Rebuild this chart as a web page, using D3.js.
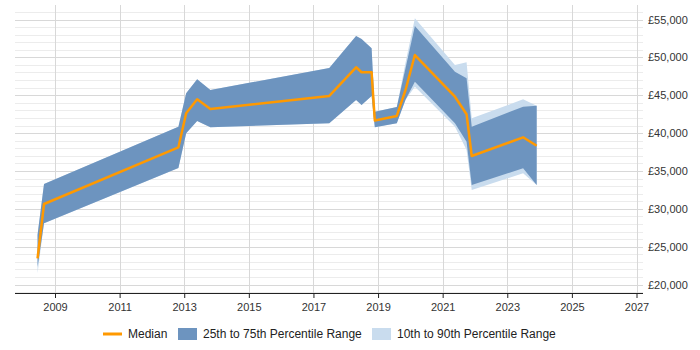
<!DOCTYPE html>
<html>
<head>
<meta charset="utf-8">
<script src="https://cdn.jsdelivr.net/npm/d3@7"></script>
<style>
  body { margin: 0; background: #fff; }
  svg { display: block; font-family: "Liberation Sans", Arial, sans-serif; }
</style>
</head>
<body>
<svg width="700" height="350"></svg>
<script>
// dates as decimal years
const dates = [2008.46, 2008.66, 2012.82, 2013.06, 2013.40, 2013.81, 2017.49, 2018.32, 2018.49, 2018.80,
  2018.90, 2019.58, 2019.85, 2020.14, 2021.38, 2021.74, 2021.90, 2023.49, 2023.91];
const median = [23460, 30630, 38120, 42610, 44460, 43180, 44900, 48690, 48030, 48030,
  41660, 42260, 45690, 50310, 44800, 42480, 36970, 39440, 38330];
const p75 = [26540, 33270, 40840, 45250, 47100, 45690, 48600, 52820, 52430, 51200,
  42820, 43440, 48550, 54140, 48110, 47230, 40840, 43480, 43610];
const p25 = [22300, 28080, 35390, 39970, 41600, 40760, 41290, 44370, 43710, 44900,
  40760, 41290, 44390, 46790, 41290, 38860, 33140, 35350, 33140];
const p90 = [26700, 33270, 40840, 45250, 47100, 45690, 48600, 52820, 52430, 51200,
  42820, 43440, 49300, 55160, 48990, 49350, 41950, 44460, 43610];
const p10 = [21500, 28080, 35390, 39970, 41600, 40760, 41290, 44370, 43710, 44900,
  40760, 41290, 44390, 46130, 40840, 37770, 32480, 34690, 33140];

const yearTicks = [2009, 2011, 2013, 2015, 2017, 2019, 2021, 2023, 2025, 2027];
const salaryTicks = [20000, 25000, 30000, 35000, 40000, 45000, 50000, 55000];

const svg = d3.select("svg");
const plotLeft = 15, plotRight = 643, plotTop = 5, plotBottom = 293;

const x = d3.scaleLinear().domain([2009, 2027]).range([55, 636.5]);
const y = d3.scaleLinear().domain([20000, 55000]).range([284.5, 19.5]);

const rows = dates.map((d, i) => ({
  date: d, median: median[i], p10: p10[i], p25: p25[i], p75: p75[i], p90: p90[i]
}));

// grid
const minor = d3.range(19000, 57000, 1000).filter(v => v % 5000 !== 0);
svg.append("g").selectAll("line")
  .data(minor)
  .join("line")
  .attr("x1", plotLeft).attr("x2", plotRight)
  .attr("y1", d => Math.round(y(d)) + 0.5).attr("y2", d => Math.round(y(d)) + 0.5)
  .attr("stroke", "#ececec");

svg.append("g").selectAll("line")
  .data(yearTicks)
  .join("line")
  .attr("x1", d => Math.round(x(d)) + 0.5).attr("x2", d => Math.round(x(d)) + 0.5)
  .attr("y1", plotTop).attr("y2", plotBottom)
  .attr("stroke", "#d8d8d8");

svg.append("g").selectAll("line")
  .data(salaryTicks)
  .join("line")
  .attr("x1", plotLeft).attr("x2", plotRight)
  .attr("y1", d => Math.round(y(d)) + 0.5).attr("y2", d => Math.round(y(d)) + 0.5)
  .attr("stroke", "#d8d8d8");

// bands
const band = (lo, hi) => d3.area()
  .x(d => x(d.date))
  .y0(d => y(d[lo]))
  .y1(d => y(d[hi]));

svg.append("path")
  .datum(rows)
  .attr("d", band("p10", "p90"))
  .attr("fill", "#c9dcee");

svg.append("path")
  .datum(rows)
  .attr("d", band("p25", "p75"))
  .attr("fill", "#6d94bf");

svg.append("path")
  .datum(rows)
  .attr("d", d3.line().x(d => x(d.date)).y(d => y(d.median)))
  .attr("fill", "none")
  .attr("stroke", "#ff9900")
  .attr("stroke-width", 2.5)
  .attr("stroke-linejoin", "round");

// x axis
const xAxis = svg.append("g")
  .attr("transform", `translate(0,${plotBottom})`)
  .call(d3.axisBottom(x).tickValues(yearTicks).tickFormat(d3.format("d")).tickSizeOuter(0).tickSize(5));
xAxis.select(".domain").attr("d", `M${plotLeft},0.5H${plotRight}`).attr("stroke", "#222");
xAxis.selectAll(".tick line").attr("stroke", "#222");
xAxis.selectAll("text").attr("font-size", 11).attr("fill", "#333").attr("dy", "0.9em")
  .attr("font-family", "Liberation Sans, Arial, sans-serif");

// y axis labels on right
const yAxis = svg.append("g")
  .attr("transform", `translate(${plotRight},0)`)
  .call(d3.axisRight(y).tickValues(salaryTicks).tickFormat(d => "£" + d3.format(",")(d)).tickSize(0).tickPadding(5));
yAxis.select(".domain").remove();
yAxis.selectAll("text").attr("font-size", 11).attr("fill", "#333")
  .attr("font-family", "Liberation Sans, Arial, sans-serif");

// legend
const legendItems = [
  { label: "Median", type: "line", color: "#ff9900", x: 103 },
  { label: "25th to 75th Percentile Range", type: "box", color: "#6d94bf", x: 178 },
  { label: "10th to 90th Percentile Range", type: "box", color: "#c9dcee", x: 372 }
];
const legend = svg.append("g").attr("transform", "translate(0,334)");
legendItems.forEach(item => {
  if (item.type === "line") {
    legend.append("line")
      .attr("x1", item.x).attr("x2", item.x + 19)
      .attr("y1", 0).attr("y2", 0)
      .attr("stroke", item.color).attr("stroke-width", 3);
  } else {
    legend.append("rect")
      .attr("x", item.x).attr("y", -6).attr("width", 19).attr("height", 12)
      .attr("fill", item.color);
  }
  legend.append("text")
    .attr("x", item.x + 25).attr("y", 0).attr("dy", "0.35em")
    .attr("font-size", 12).attr("fill", "#222")
    .text(item.label);
});
</script>
</body>
</html>
